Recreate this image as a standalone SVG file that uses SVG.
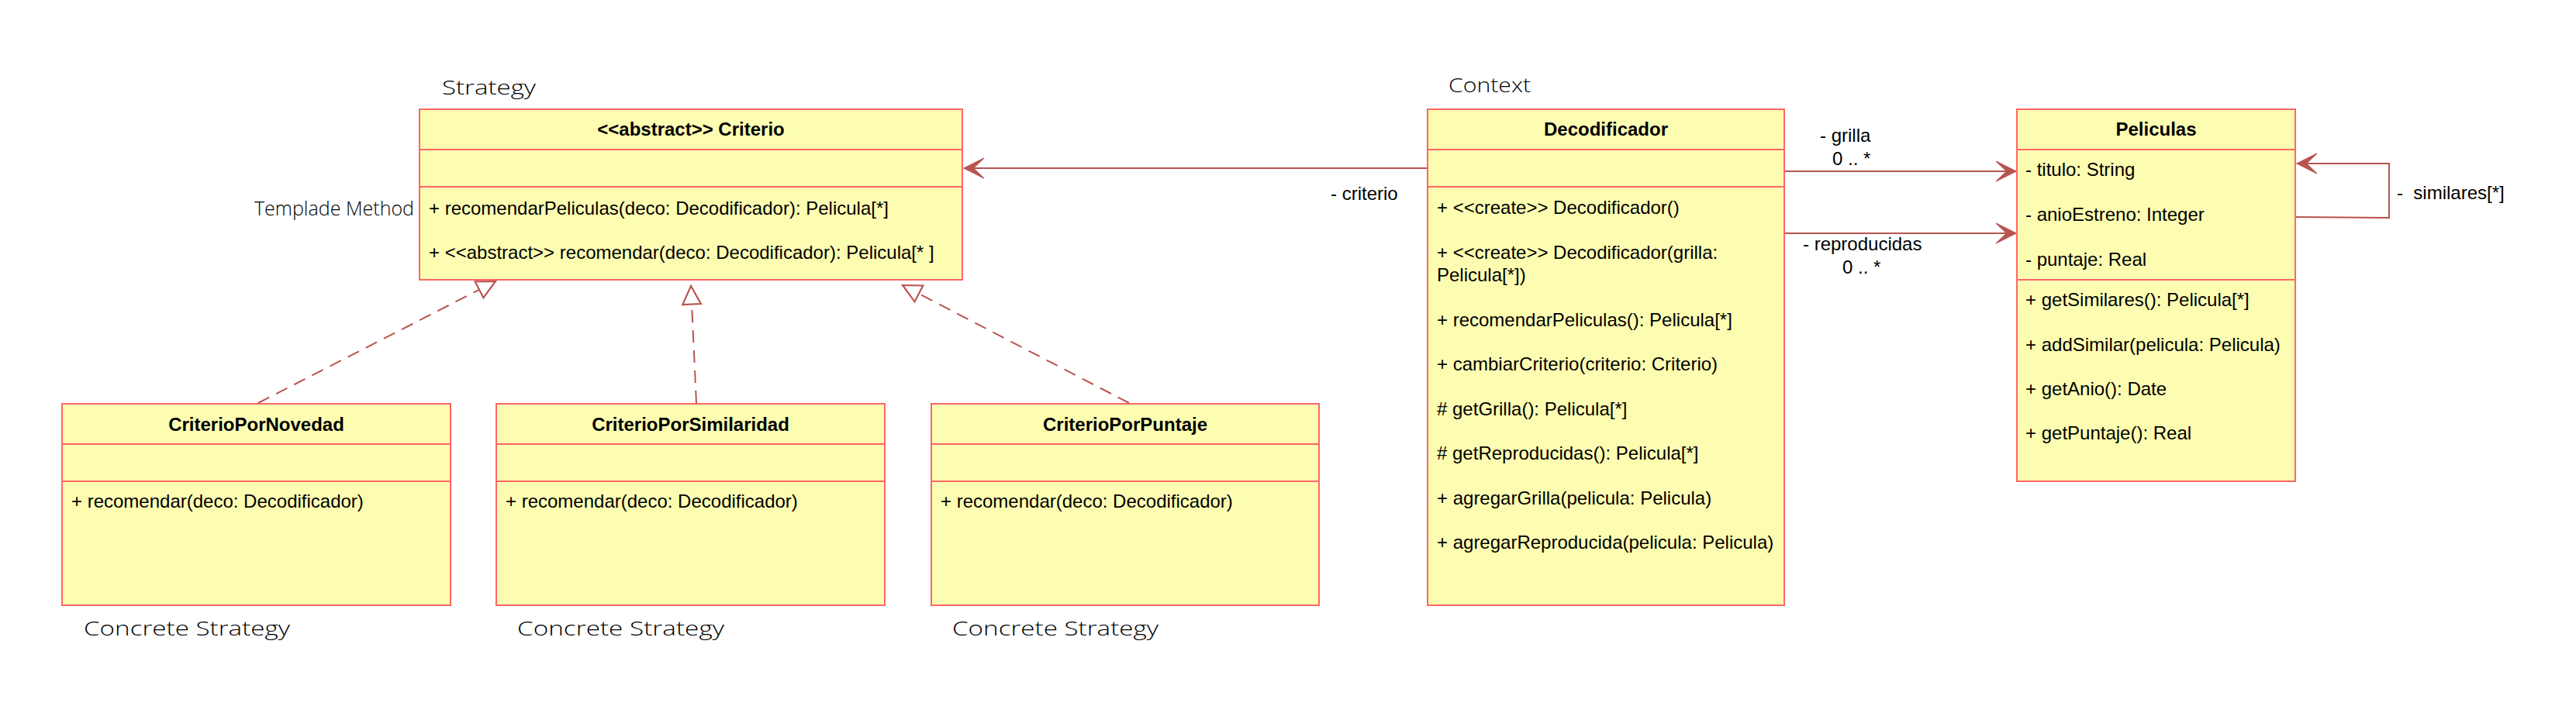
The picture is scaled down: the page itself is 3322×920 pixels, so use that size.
<svg xmlns="http://www.w3.org/2000/svg" width="3322" height="920" viewBox="0 0 3322 920">
<style>
.box{fill:#FDFDB2;stroke:#FF6666;stroke-width:2}
.sep{stroke:#FF6666;stroke-width:2}
.t{font-family:"Liberation Sans",Arial,sans-serif;font-size:24px;fill:#000}
.b{font-weight:bold;text-anchor:middle}
.h{font-family:"Open Sans","Noto Sans",sans-serif;font-weight:300;font-size:26px;fill:#000}
.conn{fill:none;stroke:#B85450;stroke-width:2}
.dash{stroke-dasharray:16 10}
</style>
<defs>
<marker id="arr" markerUnits="userSpaceOnUse" markerWidth="30" markerHeight="30" viewBox="-27 -14 29 28" refX="0" refY="0" orient="auto">
<path d="M0,0 L-25,-12.5 L-12,0 L-25,12.5 Z" fill="#B85450" stroke="#B85450" stroke-width="1"/>
</marker>
<marker id="tri" markerUnits="userSpaceOnUse" markerWidth="30" markerHeight="30" viewBox="-25 -14 27 28" refX="0" refY="0" orient="auto">
<path d="M0,0 L-22,-11 L-22,11 Z" fill="#FFFFFF" stroke="#B85450" stroke-width="2"/>
</marker>
</defs>
<rect width="3322" height="920" fill="#FFFFFF"/>

<g id="connectors">
<path class="conn" d="M1841,217 L1243,217" marker-end="url(#arr)"/>
<path class="conn" d="M2301,221 L2600,221" marker-end="url(#arr)"/>
<path class="conn" d="M2301,301 L2600,301" marker-end="url(#arr)"/>
<path class="conn" d="M2960,280 L3081,281 L3081,211 L2962,211" marker-end="url(#arr)"/>
<path class="conn dash" d="M333,520 L639,363" marker-end="url(#tri)"/>
<path class="conn dash" d="M898,520 L891,369" marker-end="url(#tri)"/>
<path class="conn dash" d="M1456,520 L1164,368" marker-end="url(#tri)"/>
<text class="t" x="1716" y="258">- criterio</text>
<text class="t" x="2347" y="183">- grilla</text>
<text class="t" x="2363" y="213">0 .. *</text>
<text class="t" x="2325" y="323">- reproducidas</text>
<text class="t" x="2376" y="353">0 .. *</text>
<text class="t" x="3091" y="257" xml:space="preserve">-  similares[*]</text>
</g>

<g id="criterio">
<rect class="box" x="541" y="141" width="700" height="220"/>
<line class="sep" x1="541" y1="193" x2="1241" y2="193"/>
<line class="sep" x1="541" y1="241" x2="1241" y2="241"/>
<text class="t b" x="891" y="175">&lt;&lt;abstract&gt;&gt; Criterio</text>
<text class="t" x="553" y="277">+ recomendarPeliculas(deco: Decodificador): Pelicula[*]</text>
<text class="t" x="553" y="334">+ &lt;&lt;abstract&gt;&gt; recomendar(deco: Decodificador): Pelicula[* ]</text>
</g>

<g id="decodificador">
<rect class="box" x="1841" y="141" width="460" height="640"/>
<line class="sep" x1="1841" y1="193" x2="2301" y2="193"/>
<line class="sep" x1="1841" y1="241" x2="2301" y2="241"/>
<text class="t b" x="2071" y="175">Decodificador</text>
<text class="t" x="1853" y="276">+ &lt;&lt;create&gt;&gt; Decodificador()</text>
<text class="t" x="1853" y="334">+ &lt;&lt;create&gt;&gt; Decodificador(grilla:</text>
<text class="t" x="1853" y="363">Pelicula[*])</text>
<text class="t" x="1853" y="421">+ recomendarPeliculas(): Pelicula[*]</text>
<text class="t" x="1853" y="478">+ cambiarCriterio(criterio: Criterio)</text>
<text class="t" x="1853" y="536"># getGrilla(): Pelicula[*]</text>
<text class="t" x="1853" y="593"># getReproducidas(): Pelicula[*]</text>
<text class="t" x="1853" y="651">+ agregarGrilla(pelicula: Pelicula)</text>
<text class="t" x="1853" y="708">+ agregarReproducida(pelicula: Pelicula)</text>
</g>

<g id="peliculas">
<rect class="box" x="2601" y="141" width="359" height="480"/>
<line class="sep" x1="2601" y1="193" x2="2960" y2="193"/>
<line class="sep" x1="2601" y1="361" x2="2960" y2="361"/>
<text class="t b" x="2780.5" y="175">Peliculas</text>
<text class="t" x="2612" y="227">- titulo: String</text>
<text class="t" x="2612" y="285">- anioEstreno: Integer</text>
<text class="t" x="2612" y="343">- puntaje: Real</text>
<text class="t" x="2612" y="395">+ getSimilares(): Pelicula[*]</text>
<text class="t" x="2612" y="453">+ addSimilar(pelicula: Pelicula)</text>
<text class="t" x="2612" y="510">+ getAnio(): Date</text>
<text class="t" x="2612" y="567">+ getPuntaje(): Real</text>
</g>

<g id="criterioPorNovedad">
<rect class="box" x="80" y="521" width="501" height="260"/>
<line class="sep" x1="80" y1="573" x2="581" y2="573"/>
<line class="sep" x1="80" y1="621" x2="581" y2="621"/>
<text class="t b" x="330.5" y="556">CriterioPorNovedad</text>
<text class="t" x="92" y="655">+ recomendar(deco: Decodificador)</text>
</g>

<g id="criterioPorSimilaridad">
<rect class="box" x="640" y="521" width="501" height="260"/>
<line class="sep" x1="640" y1="573" x2="1141" y2="573"/>
<line class="sep" x1="640" y1="621" x2="1141" y2="621"/>
<text class="t b" x="890.5" y="556">CriterioPorSimilaridad</text>
<text class="t" x="652" y="655">+ recomendar(deco: Decodificador)</text>
</g>

<g id="criterioPorPuntaje">
<rect class="box" x="1201" y="521" width="500" height="260"/>
<line class="sep" x1="1201" y1="573" x2="1701" y2="573"/>
<line class="sep" x1="1201" y1="621" x2="1701" y2="621"/>
<text class="t b" x="1451" y="556">CriterioPorPuntaje</text>
<text class="t" x="1213" y="655">+ recomendar(deco: Decodificador)</text>
</g>

<g id="annotations">
<text class="h" x="570" y="122" textLength="121" lengthAdjust="spacingAndGlyphs">Strategy</text>
<text class="h" x="1868" y="119" textLength="106" lengthAdjust="spacingAndGlyphs">Context</text>
<text class="h" x="328" y="278" textLength="206" lengthAdjust="spacingAndGlyphs">Templade Method</text>
<text class="h" x="108" y="820" textLength="266" lengthAdjust="spacingAndGlyphs">Concrete Strategy</text>
<text class="h" x="667" y="820" textLength="267" lengthAdjust="spacingAndGlyphs">Concrete Strategy</text>
<text class="h" x="1228" y="820" textLength="266" lengthAdjust="spacingAndGlyphs">Concrete Strategy</text>
</g>
</svg>
